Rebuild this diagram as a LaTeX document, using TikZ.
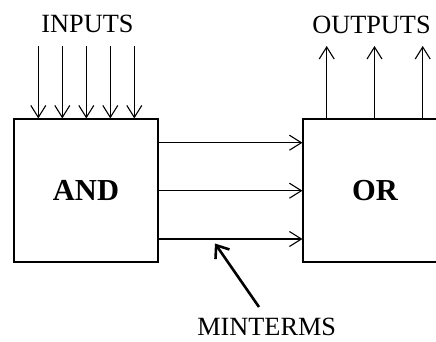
\documentclass[tikz,border=0pt]{standalone}
\usepackage{fontspec}
\setmainfont{Liberation Serif}
\usetikzlibrary{arrows.meta}
\begin{document}
\begin{tikzpicture}[x=1pt,y=-1pt,line width=1.1pt,
box/.style={draw,minimum width=144pt,minimum height=143pt,inner sep=0pt,font=\fontsize{30.5}{34}\selectfont\bfseries},
lbl/.style={inner sep=0pt,font=\fontsize{26.3}{30}\selectfont},
sig/.style={-{Straight Barb[length=12pt,width=15pt]}}]
\useasboundingbox (0,0) rectangle (436,341);
\clip (0,0) rectangle (436,341);
\node[box](and) at (86,190.5){AND};
\node[box](or) at (375,190.5){OR};
\node[lbl](inputs) at (87.5,24){INPUTS};
\node[lbl](outputs) at (371.5,25.3){OUTPUTS};
\node[lbl](minterms) at (266.7,327){MINTERMS};
\coordinate (i1) at (38.3,46);
\coordinate (i2) at (62.3,46);
\coordinate (i3) at (86.3,46);
\coordinate (i4) at (110.3,46);
\coordinate (i5) at (134.3,46);
\coordinate (o1) at (326.7,46);
\coordinate (o2) at (374.5,46);
\coordinate (o3) at (422.7,46);
\coordinate (m1) at (0,142.7);
\coordinate (m2) at (0,190.7);
\coordinate (m3) at (0,239);
\coordinate (mt) at (259,307);
\coordinate (mh) at (215,243.5);
\draw[sig](i1)--(i1|-and.north);
\draw[sig](i2)--(i2|-and.north);
\draw[sig](i3)--(i3|-and.north);
\draw[sig](i4)--(i4|-and.north);
\draw[sig](i5)--(i5|-and.north);
\draw[sig](o1|-or.north)--(o1);
\draw[sig](o2|-or.north)--(o2);
\draw[sig](o3|-or.north)--(o3);
\draw[sig](and.east|-m1)--(or.west|-m1);
\draw[sig](and.east|-m2)--(or.west|-m2);
\draw[sig](and.east|-m3)--(or.west|-m3);
\draw[line width=2.6pt,-{Straight Barb[length=11pt,width=17pt]}](mt)--(mh);
\end{tikzpicture}
\end{document}
